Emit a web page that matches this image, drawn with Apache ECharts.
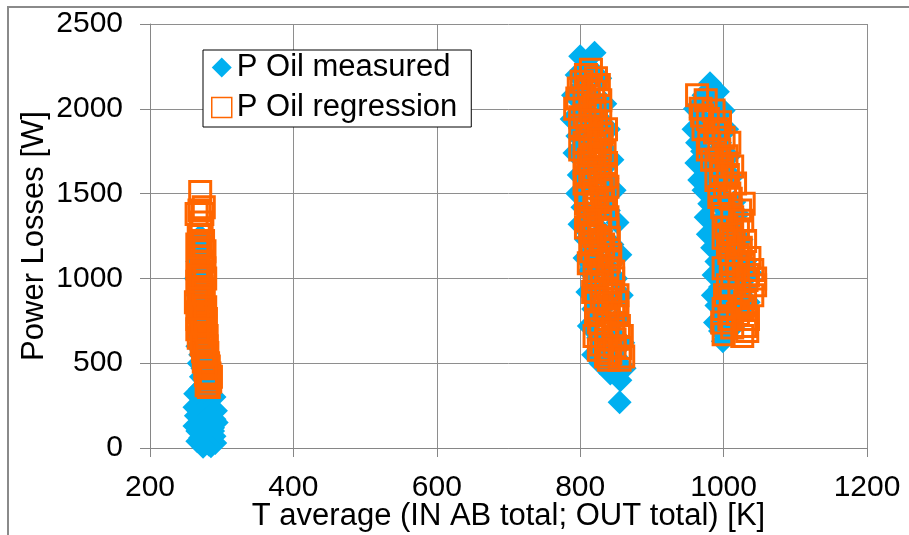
<!DOCTYPE html>
<html>
<head>
<meta charset="utf-8">
<script src="https://cdn.jsdelivr.net/npm/echarts@6/dist/echarts.min.js"></script>
<style>
  html, body { margin: 0; padding: 0; background: #ffffff; }
  #chart { width: 909px; height: 535px; }
</style>
</head>
<body>
<div id="chart"></div>
<script>
// Axis ranges and ticks
const xMin = 200, xMax = 1200, xStep = 200;
const yMin = 0, yMax = 2500, yStep = 500;

const seriesNames = ['P Oil measured', 'P Oil regression'];

// Measured oil losses [T average K, P W] - cold group
const measuredCold = [
  [270,1250],[268,1200],[272,1150],[266,1100],[275,1080],[268,1040],[264,1000],[270,960],
  [276,950],[266,900],[271,870],[264,850],[268,800],[274,780],[266,750],[270,720],
  [276,700],[268,660],[272,620],[266,600],[275,580],[270,550],[278,520],[268,500],
  [273,470],[280,450],[271,420],[276,400],[282,380],[270,350],[278,330],[284,300],
  [272,280],[280,260],[286,240],[268,220],[276,200],[284,190],[290,170],[272,150],
  [280,140],[288,120],[266,100],[275,90],[283,80],[290,70],[270,60],[278,50],
  [286,40],[282,20],[276,30],[288,100],[264,190],[270,180],[262,240],[292,220],
  [262,130],[293,150],[266,40],[291,30],[285,10],[274,8],[280,110],[263,320],[290,300]
];
// Measured oil losses - middle group
const measuredMid = [
  [800,2310],[820,2330],[812,2250],[795,2200],[828,2180],[805,2130],[790,2080],[818,2070],
  [835,2030],[800,1990],[788,1940],[826,1950],[812,1900],[840,1880],[796,1840],[818,1800],
  [833,1770],[792,1740],[808,1700],[845,1700],[824,1650],[798,1610],[838,1590],[812,1560],
  [796,1500],[848,1520],[828,1470],[803,1420],[840,1400],[815,1370],[799,1320],[852,1330],
  [830,1280],[808,1230],[845,1200],[820,1160],[806,1120],[856,1140],[836,1080],[812,1040],
  [850,1000],[824,960],[810,920],[858,900],[840,860],[818,820],[832,780],[852,760],
  [812,720],[845,680],[825,650],[860,620],[836,590],[818,550],[850,540],[828,500],
  [862,470],[842,440],[856,400],[855,270]
];
// Measured oil losses - hot group
const measuredHot = [
  [981,2150],[992,2100],[972,2080],[960,2000],[985,2030],[1000,1990],[968,1950],[990,1920],
  [958,1880],[1005,1880],[978,1860],[963,1800],[995,1800],[970,1750],[984,1720],[1008,1720],
  [962,1680],[976,1640],[998,1650],[966,1580],[988,1590],[1012,1600],[972,1520],[994,1500],
  [1015,1450],[980,1440],[1002,1400],[975,1360],[1020,1380],[990,1320],[1010,1300],[978,1260],
  [1000,1220],[1025,1230],[984,1180],[1012,1150],[990,1100],[1030,1100],[1005,1060],[986,1020],
  [1038,1030],[1018,990],[995,950],[1030,940],[985,900],[1010,880],[1035,860],[990,840],
  [1020,820],[1000,780],[988,740],[1015,720],[995,690],[999,630],[1005,660]
];

// Regression model output - cold group
const regressionCold = [
  [270,1510],[269,1400],[273,1380],[271,1330],[268,1250],[274,1220],[270,1180],[267,1130],
  [273,1100],[276,1060],[269,1020],[266,980],[272,950],[268,900],[275,880],[271,840],
  [267,800],[274,770],[270,740],[277,720],[272,680],[268,650],[276,630],[279,600],
  [274,570],[278,540],[281,500],[277,470],[283,440],[280,410],[284,390],[279,370],
  [265,1380],[275,1420],[272,1290],[266,1200],[276,1160],[272,1040],[277,1000],[266,1060],
  [270,1010],[274,930],[270,880],[264,860],[277,830],[272,790],[266,760],[278,760],
  [273,700],[266,700],[279,660],[272,610],[280,560],[275,510],[282,480],[285,420],
  [278,430],[282,360]
];
// Regression model output - middle group
const regressionMid = [
  [815,2230],[808,2200],[822,2180],[798,2120],[818,2100],[806,2060],[828,2050],[793,2000],
  [814,1990],[800,1950],[822,1920],[810,1880],[830,1850],[806,1800],[820,1780],[834,1740],
  [812,1700],[826,1660],[808,1620],[835,1600],[818,1560],[830,1520],[810,1480],[824,1450],
  [836,1410],[814,1380],[828,1340],[808,1300],[838,1290],[820,1250],[832,1200],[816,1160],
  [842,1140],[826,1100],[838,1060],[820,1020],[846,1000],[830,960],[842,920],[822,880],
  [850,860],[834,820],[846,780],[826,740],[854,720],[838,680],[848,640],[830,610],
  [856,590],[842,560],[855,520],[836,540],
  [802,2160],[826,2140],[812,2130],[796,2060],[820,2020],[806,1960],[828,1980],[816,1930],
  [800,1900],[836,1880],[814,1840],[826,1820],[800,1760],[828,1760],[816,1730],[806,1680],
  [836,1680],[820,1640],[814,1600],[828,1580],[806,1560],[838,1540],[820,1500],[832,1470],
  [808,1440],[820,1410],[838,1360],[812,1340],[826,1300],[816,1270],[840,1240],[828,1230],
  [814,1200],[822,1130],[840,1100],[812,1090],[830,1050],[846,1040],[824,980],[836,940],
  [818,920],[852,900],[830,880],[840,850],[822,800],[852,800],[838,760],[828,700],
  [846,700],[820,660],[858,660],[836,640],[848,600],[826,580],[840,520],[860,540]
];
// Regression model output - hot group
const regressionHot = [
  [963,2080],[975,2050],[986,1990],[968,2000],[978,1940],[995,1920],[972,1880],[988,1860],
  [1000,1830],[980,1800],[994,1760],[1004,1720],[984,1700],[998,1660],[1006,1610],[990,1580],
  [1002,1540],[994,1480],[1010,1470],[1023,1400],[998,1420],[1012,1360],[1004,1300],[1020,1290],
  [1000,1240],[1014,1220],[1024,1180],[1008,1150],[1018,1100],[1028,1080],[1000,1060],[1040,1050],
  [1012,1020],[1032,990],[1044,960],[1006,960],[1022,930],[1040,900],[1010,880],[1030,860],
  [1000,820],[1020,790],[1034,760],[998,740],[1012,710],[1033,690],[1000,670],[1026,660],
  [970,1960],[992,1880],[1008,1800],[978,1760],[990,1700],[1012,1660],[996,1620],[1016,1560],
  [1008,1500],[1028,1440],[1000,1380],[1026,1340],[1010,1260],[1030,1220],[1006,1200],[1020,1140],
  [1036,1120],[1010,1100],[1034,1020],[1020,1060],[1044,1000],[1002,900],[1026,830],[1008,760],
  [1030,720]
];

const measured = measuredCold.concat(measuredMid, measuredHot);
const regression = regressionCold.concat(regressionMid, regressionHot);

const BLUE = '#00B0F0';
const ORANGE = '#FF6600';
const GRID_GRAY = '#8e8e8e';
const AXIS_GRAY = '#868686';
const FONT = 'Liberation Sans, Arial, sans-serif';
const FS = 31;      // titles and legend
const FS_TICK = 30; // tick labels

const chart = echarts.init(document.getElementById('chart'), null, { renderer: 'canvas' });

chart.setOption({
  animation: false,
  backgroundColor: '#ffffff',
  textStyle: { fontFamily: FONT },
  graphic: [{
    type: 'rect',
    shape: { x: 8, y: 7, width: 1000, height: 700 },
    style: { fill: 'none', stroke: '#8a8a8a', lineWidth: 2 },
    silent: true,
    z: -10
  }],
  grid: { left: 150, right: 42, top: 24, bottom: 87, containLabel: false, outerBoundsMode: 'none' },
  legend: {
    orient: 'vertical',
    left: 203,
    top: 50,
    backgroundColor: '#ffffff',
    borderColor: '#000000',
    borderWidth: 1,
    borderRadius: 0,
    padding: [2, 14, 4, 8],
    itemWidth: 20,
    itemHeight: 20,
    itemGap: 9,
    textStyle: { fontFamily: FONT, fontSize: FS, color: '#000000', lineHeight: 31 },
    data: [
      { name: seriesNames[0], icon: 'diamond', itemStyle: { color: BLUE, borderWidth: 0 } },
      { name: seriesNames[1], icon: 'rect', itemStyle: { color: '#ffffff', borderColor: ORANGE, borderWidth: 1.5 } }
    ]
  },
  xAxis: {
    type: 'value',
    min: xMin, max: xMax, interval: xStep,
    name: 'T average (IN AB total; OUT total) [K]',
    nameLocation: 'middle',
    nameGap: 53,
    nameMoveOverlap: false,
    nameTextStyle: { fontFamily: FONT, fontSize: FS, color: '#000000' },
    axisLine: { show: true, onZero: false, lineStyle: { color: AXIS_GRAY, width: 1 } },
    axisTick: { show: true, inside: false, length: 9, lineStyle: { color: AXIS_GRAY } },
    axisLabel: { fontFamily: FONT, fontSize: FS_TICK, color: '#000000', margin: 25, formatter: v => String(v) },
    splitLine: { show: true, lineStyle: { color: GRID_GRAY, width: 1 } }
  },
  yAxis: {
    type: 'value',
    min: yMin, max: yMax, interval: yStep,
    name: 'Power Losses [W]',
    nameLocation: 'middle',
    nameGap: 100,
    nameMoveOverlap: false,
    nameRotate: 90,
    nameTextStyle: { fontFamily: FONT, fontSize: FS, color: '#000000' },
    axisLine: { show: true, lineStyle: { color: AXIS_GRAY, width: 1 } },
    axisTick: { show: true, inside: false, length: 10, lineStyle: { color: AXIS_GRAY } },
    axisLabel: { fontFamily: FONT, fontSize: FS_TICK, color: '#000000', margin: 27, formatter: v => String(v) },
    splitLine: { show: true, lineStyle: { color: GRID_GRAY, width: 1 } }
  },
  series: [
    {
      name: seriesNames[0],
      type: 'scatter',
      data: measured,
      symbol: 'diamond',
      symbolSize: 24,
      itemStyle: { color: BLUE, opacity: 1 },
      z: 2
    },
    {
      name: seriesNames[1],
      type: 'scatter',
      data: regression,
      symbol: 'rect',
      symbolSize: 21,
      itemStyle: { color: 'rgba(0,0,0,0)', borderColor: ORANGE, borderWidth: 3, opacity: 1 },
      z: 3
    }
  ]
});
</script>
</body>
</html>
